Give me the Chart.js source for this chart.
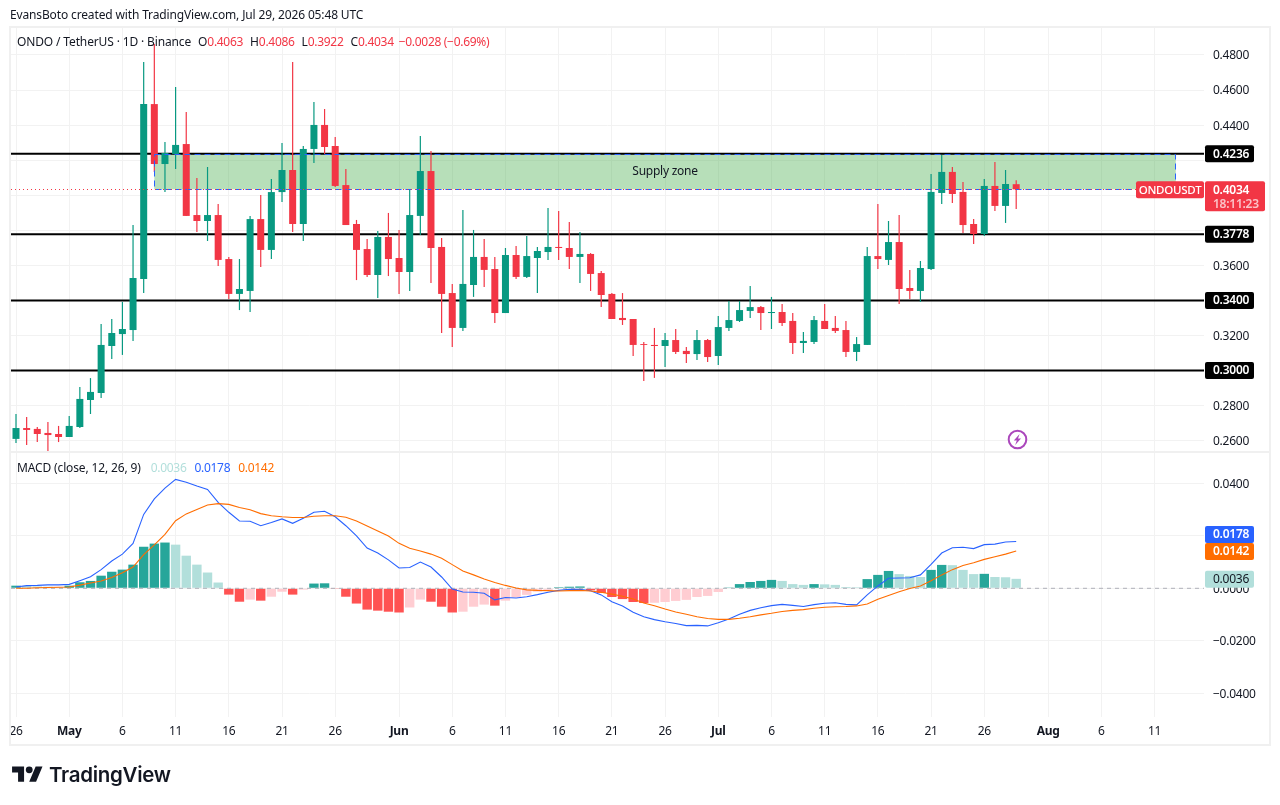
<!DOCTYPE html>
<html>
<head>
<meta charset="utf-8">
<title>ONDO / TetherUS</title>
<script src="https://cdn.jsdelivr.net/npm/chart.js@4"></script>
<style>
    html, body { margin: 0; padding: 0; background: #fff; }
    body { width: 1280px; height: 805px; position: relative; overflow: hidden; font-family: 'Noto Sans', sans-serif; color: #131722; }
    canvas { position: absolute; left: 0; top: 0; }
    .txt { position: absolute; font-size: 12px; line-height: 16px; white-space: pre; letter-spacing: -0.14px; }
    .gap { margin-left: 7px; }
    .gap2 { margin-left: 5px; }
    .gap3 { margin-left: 8px; }
    .gap4 { margin-left: 10px; }
    .val { letter-spacing: -0.3px; }
    #logoText { position: absolute; left: 49px; top: 761px; font: 600 20.5px/28px Inter, sans-serif; color: #131722; letter-spacing: -0.3px; }
</style>
</head>
<body>
<canvas id="chart" width="1280" height="805"></canvas>
<div class="txt" id="header" style="left:10px;top:7px"></div>
<div class="txt" id="priceLegend" style="left:17px;top:34px"></div>
<div class="txt" id="macdLegend" style="left:17px;top:460px"></div>
<svg style="position:absolute;left:12px;top:763px" width="31" height="24" viewBox="0 0 36 28"><path fill="#131722" d="M14 22H7V11H0V4h14v18zM28 22h-8l7.5-18h8L28 22z"/><circle fill="#131722" cx="20" cy="8" r="4"/></svg>
<div id="logoText">TradingView</div>
<svg style="position:absolute;left:1007px;top:429px" width="21" height="21" viewBox="0 0 21 21"><circle cx="10.5" cy="10.5" r="8.8" fill="#fff" stroke="#ab47bc" stroke-width="2"/><path fill="#ab47bc" d="M12.6 5 6.8 11.4h3l-1.6 4.6 5.8-6.4h-3z"/></svg>

<script>
// Data harian, index 0 = 26 Apr
const opens = [
    0.2610, 0.2672, 0.2667, 0.2644, 0.2638, 0.2621, 0.2678, 0.2832, 0.2872, 0.3140,
    0.3208, 0.3231, 0.3522, 0.4520, 0.4178, 0.4235, 0.4292, 0.3887, 0.3853, 0.3887,
    0.3636, 0.3437, 0.3454, 0.3864, 0.3688, 0.4018, 0.4144, 0.3836, 0.4264, 0.4401,
    0.4281, 0.4058, 0.3836, 0.3693, 0.3545, 0.3762, 0.3642, 0.3562, 0.3882, 0.4138,
    0.3705, 0.3442, 0.3243, 0.3488, 0.3648, 0.3579, 0.3328, 0.3659, 0.3534, 0.3642,
    0.3676, 0.3705, 0.3699, 0.3648, 0.3665, 0.3556, 0.3437, 0.3300, 0.3294, 0.3151,
    0.3146, 0.3140, 0.3174, 0.3112, 0.3094, 0.3174, 0.3083, 0.3243, 0.3283, 0.3340,
    0.3362, 0.3328, 0.3334, 0.3283, 0.3157, 0.3163, 0.3283, 0.3243, 0.3231, 0.3106,
    0.3146, 0.3653, 0.3631, 0.3733, 0.3471, 0.3454, 0.3579, 0.4013, 0.4133, 0.4019,
    0.3836, 0.3779, 0.4053, 0.3939, 0.4063
];
const closes = [
    0.2672, 0.2661, 0.2638, 0.2632, 0.2621, 0.2684, 0.2838, 0.2878, 0.3146, 0.3214,
    0.3237, 0.3528, 0.4520, 0.4178, 0.4241, 0.4287, 0.3882, 0.3853, 0.3887, 0.3631,
    0.3437, 0.3465, 0.3864, 0.3688, 0.4018, 0.4144, 0.3836, 0.4264, 0.4401, 0.4275,
    0.4053, 0.3830, 0.3688, 0.3545, 0.3762, 0.3636, 0.3562, 0.3887, 0.4138, 0.3699,
    0.3437, 0.3243, 0.3494, 0.3648, 0.3574, 0.3328, 0.3659, 0.3534, 0.3653, 0.3682,
    0.3705, 0.3699, 0.3648, 0.3665, 0.3551, 0.3431, 0.3294, 0.3288, 0.3146, 0.3146,
    0.3140, 0.3174, 0.3106, 0.3094, 0.3174, 0.3077, 0.3248, 0.3288, 0.3345, 0.3362,
    0.3328, 0.3334, 0.3271, 0.3157, 0.3169, 0.3288, 0.3237, 0.3226, 0.3106, 0.3151,
    0.3653, 0.3636, 0.3733, 0.3465, 0.3454, 0.3585, 0.4019, 0.4133, 0.4007, 0.3830,
    0.3779, 0.4053, 0.3939, 0.4064, 0.4034
];
const highs = [
    0.2752, 0.2735, 0.2678, 0.2706, 0.2684, 0.2741, 0.2906, 0.2957, 0.3265, 0.3294,
    0.3391, 0.3830, 0.4760, 0.4863, 0.4304, 0.4617, 0.4475, 0.4098, 0.4161, 0.3950,
    0.3648, 0.3636, 0.3882, 0.4001, 0.4093, 0.4298, 0.4760, 0.4281, 0.4532, 0.4492,
    0.4332, 0.4150, 0.3859, 0.3750, 0.3796, 0.3899, 0.3802, 0.4030, 0.4338, 0.4252,
    0.3756, 0.3494, 0.3916, 0.3802, 0.3750, 0.3648, 0.3699, 0.3711, 0.3767, 0.3705,
    0.3927, 0.3910, 0.3847, 0.3790, 0.3670, 0.3568, 0.3442, 0.3442, 0.3294, 0.3163,
    0.3243, 0.3214, 0.3237, 0.3134, 0.3231, 0.3180, 0.3311, 0.3397, 0.3397, 0.3482,
    0.3368, 0.3420, 0.3380, 0.3328, 0.3220, 0.3311, 0.3380, 0.3311, 0.3283, 0.3191,
    0.3705, 0.3950, 0.3853, 0.3887, 0.3574, 0.3625, 0.4121, 0.4230, 0.4161, 0.4076,
    0.3865, 0.4093, 0.4190, 0.4144, 0.4086
];
const lows = [
    0.2587, 0.2575, 0.2592, 0.2541, 0.2592, 0.2621, 0.2672, 0.2752, 0.2843, 0.3066,
    0.3089, 0.3169, 0.3442, 0.4133, 0.4018, 0.4150, 0.3882, 0.3790, 0.3739, 0.3596,
    0.3408, 0.3345, 0.3334, 0.3591, 0.3636, 0.3961, 0.3790, 0.3739, 0.4184, 0.4235,
    0.4047, 0.3830, 0.3516, 0.3534, 0.3414, 0.3539, 0.3437, 0.3454, 0.3773, 0.3499,
    0.3214, 0.3134, 0.3226, 0.3420, 0.3477, 0.3271, 0.3328, 0.3522, 0.3528, 0.3442,
    0.3631, 0.3631, 0.3579, 0.3499, 0.3454, 0.3363, 0.3294, 0.3260, 0.3083, 0.2940,
    0.2958, 0.3020, 0.3094, 0.3043, 0.3060, 0.3049, 0.3032, 0.3226, 0.3277, 0.3300,
    0.3231, 0.3237, 0.3254, 0.3094, 0.3100, 0.3151, 0.3237, 0.3214, 0.3077, 0.3054,
    0.3146, 0.3579, 0.3602, 0.3380, 0.3408, 0.3391, 0.3574, 0.3950, 0.3956, 0.3785,
    0.3722, 0.3767, 0.3910, 0.3842, 0.3922
];

// MACD (12, 26, 9)
const histogram = [
    0.0010, 0.0009, 0.0007, 0.0006, 0.0005, 0.0010, 0.0023, 0.0028, 0.0048, 0.0063,
    0.0071, 0.0090, 0.0158, 0.0170, 0.0174, 0.0166, 0.0124, 0.0090, 0.0060, 0.0022,
    -0.0024, -0.0051, -0.0043, -0.0047, -0.0032, -0.0013, -0.0024, -0.0005, 0.0018, 0.0019,
    -0.0001, -0.0032, -0.0058, -0.0081, -0.0085, -0.0089, -0.0092, -0.0073, -0.0043, -0.0051,
    -0.0070, -0.0092, -0.0089, -0.0070, -0.0062, -0.0066, -0.0047, -0.0035, -0.0025, -0.0013,
    -0.0006, 0.0004, 0.0006, 0.0007, -0.0008, -0.0018, -0.0033, -0.0041, -0.0052, -0.0056,
    -0.0055, -0.0052, -0.0048, -0.0044, -0.0033, -0.0029, -0.0014, 0.0003, 0.0016, 0.0024,
    0.0028, 0.0032, 0.0028, 0.0016, 0.0013, 0.0016, 0.0015, 0.0013, 0.0005, 0.0004,
    0.0035, 0.0051, 0.0066, 0.0054, 0.0047, 0.0043, 0.0070, 0.0089, 0.0088, 0.0070,
    0.0054, 0.0055, 0.0043, 0.0042, 0.0036
];
const macdLine = [
    0.0005, 0.0010, 0.0011, 0.0013, 0.0013, 0.0015, 0.0029, 0.0044, 0.0071, 0.0104,
    0.0130, 0.0171, 0.0281, 0.0340, 0.0381, 0.0414, 0.0403, 0.0389, 0.0376, 0.0327,
    0.0289, 0.0256, 0.0255, 0.0238, 0.0250, 0.0264, 0.0247, 0.0266, 0.0289, 0.0293,
    0.0272, 0.0238, 0.0199, 0.0153, 0.0134, 0.0108, 0.0077, 0.0079, 0.0100, 0.0081,
    0.0043, -0.0003, -0.0014, -0.0015, -0.0019, -0.0044, -0.0035, -0.0037, -0.0032, -0.0024,
    -0.0015, -0.0008, -0.0004, -0.0004, -0.0009, -0.0025, -0.0051, -0.0067, -0.0091, -0.0108,
    -0.0119, -0.0127, -0.0134, -0.0142, -0.0141, -0.0143, -0.0131, -0.0117, -0.0099, -0.0084,
    -0.0074, -0.0066, -0.0061, -0.0065, -0.0069, -0.0062, -0.0057, -0.0055, -0.0061, -0.0063,
    -0.0025, 0.0009, 0.0038, 0.0039, 0.0040, 0.0051, 0.0091, 0.0134, 0.0154, 0.0156,
    0.0151, 0.0166, 0.0168, 0.0176, 0.0178
];
const signalLine = [
    0.0000, 0.0000, 0.0002, 0.0003, 0.0004, 0.0005, 0.0012, 0.0020, 0.0028, 0.0041,
    0.0059, 0.0081, 0.0128, 0.0165, 0.0205, 0.0257, 0.0283, 0.0300, 0.0317, 0.0322,
    0.0319, 0.0307, 0.0299, 0.0284, 0.0276, 0.0272, 0.0269, 0.0269, 0.0274, 0.0276,
    0.0276, 0.0270, 0.0256, 0.0237, 0.0218, 0.0199, 0.0171, 0.0152, 0.0142, 0.0130,
    0.0114, 0.0090, 0.0066, 0.0051, 0.0035, 0.0022, 0.0011, 0.0001, -0.0006, -0.0008,
    -0.0009, -0.0010, -0.0009, -0.0008, -0.0010, -0.0015, -0.0022, -0.0030, -0.0041, -0.0056,
    -0.0066, -0.0079, -0.0090, -0.0099, -0.0108, -0.0115, -0.0118, -0.0118, -0.0114, -0.0108,
    -0.0101, -0.0095, -0.0088, -0.0084, -0.0081, -0.0076, -0.0072, -0.0070, -0.0069, -0.0067,
    -0.0060, -0.0042, -0.0027, -0.0013, -0.0001, 0.0009, 0.0029, 0.0051, 0.0071, 0.0087,
    0.0097, 0.0110, 0.0120, 0.0130, 0.0142
];

// Sumbu
const tickDays = [0, 5, 10, 15, 20, 25, 30, 36, 41, 46, 51, 56, 61, 66, 71, 76, 81, 86, 91, 97, 102, 107];
const tickLabels = ['26', 'May', '6', '11', '16', '21', '26', 'Jun', '6', '11', '16', '21', '26', 'Jul', '6', '11', '16', '21', '26', 'Aug', '6', '11'];
const monthLabels = ['May', 'Jun', 'Jul', 'Aug'];
const priceTicks = [0.48, 0.46, 0.44, 0.42, 0.40, 0.38, 0.36, 0.34, 0.32, 0.30, 0.28, 0.26];
const macdTicks = [0.04, 0.02, 0, -0.02, -0.04];
// label sumbu yang tertutup label harga, garis grid tetap ada
const hiddenTicks = [0.42, 0.40, 0.38, 0.34, 0.30, 0.02];

// Level dan zona
const levels = [0.4236, 0.3778, 0.3400, 0.3000];
const zoneTop = 0.4236;
const zoneBottom = 0.4034;
const zoneStart = 13;
const zoneEnd = 109;
const lastPrice = 0.4034;
const changeText = '\u22120.0028 (\u22120.69%)';
const countdown = '18:11:23';

const GREEN = '#089981';
const RED = '#f23645';
const minDay = -0.47;
const maxDay = 111.65;

function fmt(v) {
    return v.toFixed(4).replace('-', '\u2212');
}

function histColor(i) {
    const v = histogram[i];
    const prev = i > 0 ? histogram[i - 1] : 0;
    if (v >= 0) return v > prev ? '#26a69a' : '#b2dfdb';
    return v < prev ? '#ff5252' : '#ffcdd2';
}

// Legenda di atas grafik
function span(text, color) {
    return '<span class="val" style="color:' + color + '">' + text + '</span>';
}
document.getElementById('header').textContent = 'EvansBoto created with TradingView.com, Jul 29, 2026 05:48 UTC';
const n = closes.length - 1;
document.getElementById('priceLegend').innerHTML = 'ONDO / TetherUS \u00b7 1D \u00b7 Binance'
    + '<span class="gap">O</span>' + span(fmt(opens[n]), RED) + '<span class="gap">H</span>' + span(fmt(highs[n]), RED)
    + '<span class="gap">L</span>' + span(fmt(lows[n]), RED) + '<span class="gap">C</span>' + span(fmt(closes[n]), RED)
    + '<span class="gap2"></span>' + span(changeText, RED);
document.getElementById('macdLegend').innerHTML = 'MACD (close, 12, 26, 9)<span class="gap4"></span>'
    + span(fmt(histogram[n]), '#b2dfdb') + '<span class="gap3"></span>' + span(fmt(macdLine[n]), '#2962ff')
    + '<span class="gap3"></span>' + span(fmt(signalLine[n]), '#ff6d00');

function roundTag(ctx, x, y, w, h, color) {
    ctx.fillStyle = color;
    ctx.beginPath();
    ctx.roundRect(x, y, w, h, 2);
    ctx.fill();
}

function valueTag(ctx, y, text, bg, fg) {
    roundTag(ctx, 1205, y - 8.5, 49, 17, bg);
    ctx.fillStyle = fg;
    ctx.fillText(text, 1213, y + 0.5);
}

// Bingkai dan zona, digambar di bawah candle
const backgroundPlugin = {
    id: 'background',
    beforeDraw(chart) {
        chart.ctx.letterSpacing = '-0.25px';
    },
    beforeDatasetsDraw(chart) {
        const ctx = chart.ctx;
        const x = chart.scales.x;
        const price = chart.scales.price;
        const left = x.getPixelForValue(zoneStart);
        const right = x.getPixelForValue(zoneEnd);
        const top = price.getPixelForValue(zoneTop);
        const bottom = price.getPixelForValue(zoneBottom);

        ctx.save();
        ctx.strokeStyle = '#f0f0f0';
        ctx.lineWidth = 2;
        ctx.strokeRect(10, 27, 1260, 718);
        ctx.beginPath();
        ctx.moveTo(10, 452);
        ctx.lineTo(1270, 452);
        ctx.stroke();

        ctx.fillStyle = 'rgba(76, 175, 80, 0.4)';
        ctx.fillRect(left, top, right - left, bottom - top);
        ctx.restore();
    }
};

// Garis tepi zona, garis harga terakhir, teks dan label harga
const overlayPlugin = {
    id: 'overlay',
    afterDatasetsDraw(chart) {
        const ctx = chart.ctx;
        const x = chart.scales.x;
        const price = chart.scales.price;
        const left = x.getPixelForValue(zoneStart);
        const right = x.getPixelForValue(zoneEnd);
        const top = price.getPixelForValue(zoneTop);
        const bottom = price.getPixelForValue(zoneBottom);
        const lastY = price.getPixelForValue(lastPrice);

        ctx.save();
        ctx.lineWidth = 1;
        ctx.strokeStyle = '#2962ff';
        ctx.setLineDash([6, 4]);
        ctx.strokeRect(Math.round(left) + 0.5, Math.round(top) + 0.5, Math.round(right - left), Math.round(bottom - top));

        ctx.strokeStyle = RED;
        ctx.setLineDash([1, 3]);
        ctx.beginPath();
        ctx.moveTo(11, Math.round(lastY) + 0.5);
        ctx.lineTo(1136, Math.round(lastY) + 0.5);
        ctx.stroke();
        ctx.restore();
    },
    afterDraw(chart) {
        const ctx = chart.ctx;
        const x = chart.scales.x;
        const price = chart.scales.price;
        const macd = chart.scales.macd;
        const top = price.getPixelForValue(zoneTop);
        const bottom = price.getPixelForValue(zoneBottom);
        const lastY = price.getPixelForValue(lastPrice);

        ctx.save();
        ctx.textBaseline = 'middle';
        ctx.textAlign = 'center';
        ctx.font = '12px "Noto Sans"';
        ctx.fillStyle = '#131722';
        ctx.fillText('Supply zone', x.getPixelForValue(61), (top + bottom) / 2);

        // label level
        ctx.textAlign = 'left';
        ctx.font = '600 12px "Noto Sans"';
        levels.forEach(v => valueTag(ctx, price.getPixelForValue(v), fmt(v), '#000', '#fff'));

        // label harga terakhir
        roundTag(ctx, 1136, lastY - 8, 68, 17, RED);
        ctx.fillStyle = '#fff';
        ctx.textAlign = 'center';
        ctx.font = '500 11.5px "Noto Sans"';
        ctx.fillText('ONDOUSDT', 1170, lastY + 1);
        ctx.textAlign = 'left';
        ctx.font = '600 12px "Noto Sans"';
        roundTag(ctx, 1205, lastY - 8, 60, 30, RED);
        ctx.fillStyle = '#fff';
        ctx.fillText(fmt(lastPrice), 1213, lastY + 1);
        ctx.fillStyle = 'rgba(255, 255, 255, 0.7)';
        ctx.fillText(countdown, 1213, lastY + 15);

        // label MACD, label biru didorong ke atas agar tidak menimpa label oranye
        const signalY = macd.getPixelForValue(signalLine[n]) + 0.5;
        valueTag(ctx, signalY - 17, fmt(macdLine[n]), '#2962ff', '#fff');
        valueTag(ctx, signalY, fmt(signalLine[n]), '#ff6d00', '#fff');
        ctx.font = '12px "Noto Sans"';
        valueTag(ctx, macd.getPixelForValue(histogram[n]) + 0.5, fmt(histogram[n]), '#b2dfdb', '#131722');
        ctx.restore();
    }
};

const days = closes.map((c, i) => i);
const candleColors = days.map(i => closes[i] >= opens[i] ? GREEN : RED);

const datasets = [];
levels.forEach(v => {
    datasets.push({
        type: 'line',
        yAxisID: 'price',
        data: [{ x: minDay, y: v }, { x: maxDay, y: v }],
        borderColor: '#000',
        borderWidth: 2,
        pointRadius: 0,
        order: 10
    });
});
datasets.push({
    label: 'wick',
    type: 'bar',
    yAxisID: 'price',
    data: days.map(i => ({ x: i, y: [lows[i], highs[i]] })),
    backgroundColor: candleColors,
    barThickness: 1.2,
    inflateAmount: 0,
    grouped: false,
    order: 6
});
datasets.push({
    label: 'body',
    type: 'bar',
    yAxisID: 'price',
    data: days.map(i => ({ x: i, y: [opens[i], closes[i]] })),
    backgroundColor: candleColors,
    barThickness: 7,
    inflateAmount: 0,
    grouped: false,
    order: 5
});
datasets.push({
    label: 'Histogram',
    type: 'bar',
    yAxisID: 'macd',
    data: days.map(i => ({ x: i, y: histogram[i] })),
    backgroundColor: days.map(histColor),
    barThickness: 9.4,
    inflateAmount: 0,
    grouped: false,
    order: 4
});
datasets.push({
    label: 'Zero',
    type: 'line',
    yAxisID: 'macd',
    data: [{ x: minDay, y: 0 }, { x: maxDay, y: 0 }],
    borderColor: '#aeb0b8',
    borderWidth: 1,
    borderDash: [4, 4],
    pointRadius: 0,
    order: 3
});
datasets.push({
    label: 'MACD',
    type: 'line',
    yAxisID: 'macd',
    data: days.map(i => ({ x: i, y: macdLine[i] })),
    borderColor: '#2962ff',
    borderWidth: 1.1,
    pointRadius: 0,
    tension: 0,
    order: 2
});
datasets.push({
    label: 'Signal',
    type: 'line',
    yAxisID: 'macd',
    data: days.map(i => ({ x: i, y: signalLine[i] })),
    borderColor: '#ff6d00',
    borderWidth: 1.1,
    pointRadius: 0,
    tension: 0,
    order: 1
});

function yAxis(weight, min, max, tickValues) {
    return {
        type: 'linear',
        position: 'right',
        stack: 'panes',
        stackWeight: weight,
        min: min,
        max: max,
        afterBuildTicks: axis => { axis.ticks = tickValues.map(v => ({ value: v })); },
        afterFit: axis => { axis.width = 66; axis.paddingTop = 0; axis.paddingBottom = 0; },
        grid: { color: '#f2f2f2', lineWidth: 1, drawTicks: false },
        border: { display: false },
        ticks: {
            padding: 9,
            labelOffset: 1,
            color: '#131722',
            font: { family: 'Noto Sans', size: 12 },
            callback: v => hiddenTicks.includes(v) ? '' : fmt(v)
        }
    };
}

new Chart(document.getElementById('chart'), {
    data: { datasets: datasets },
    plugins: [backgroundPlugin, overlayPlugin],
    options: {
        responsive: false,
        animation: false,
        devicePixelRatio: 1,
        layout: { padding: { left: 11, right: 10, top: 28, bottom: 60 } },
        plugins: { legend: { display: false }, tooltip: { enabled: false } },
        scales: {
            x: {
                type: 'linear',
                offset: false,
                min: minDay,
                max: maxDay,
                afterBuildTicks: axis => { axis.ticks = tickDays.map(v => ({ value: v })); },
                afterFit: axis => { axis.height = 28; axis.paddingLeft = 0; axis.paddingRight = 0; },
                grid: { offset: false, color: '#f2f2f2', lineWidth: 1, drawTicks: false },
                border: { display: false },
                ticks: {
                    padding: 7,
                    maxRotation: 0,
                    autoSkip: false,
                    color: '#131722',
                    callback: v => tickLabels[tickDays.indexOf(v)],
                    font: ctx => ({
                        family: 'Noto Sans',
                        size: 12,
                        weight: monthLabels.includes(tickLabels[ctx.index]) ? 'bold' : 'normal'
                    })
                }
            },
            price: yAxis(424, 0.25353, 0.4954, priceTicks),
            macd: yAxis(265, -0.04894, 0.05183, macdTicks)
        }
    }
});
</script>
</body>
</html>
